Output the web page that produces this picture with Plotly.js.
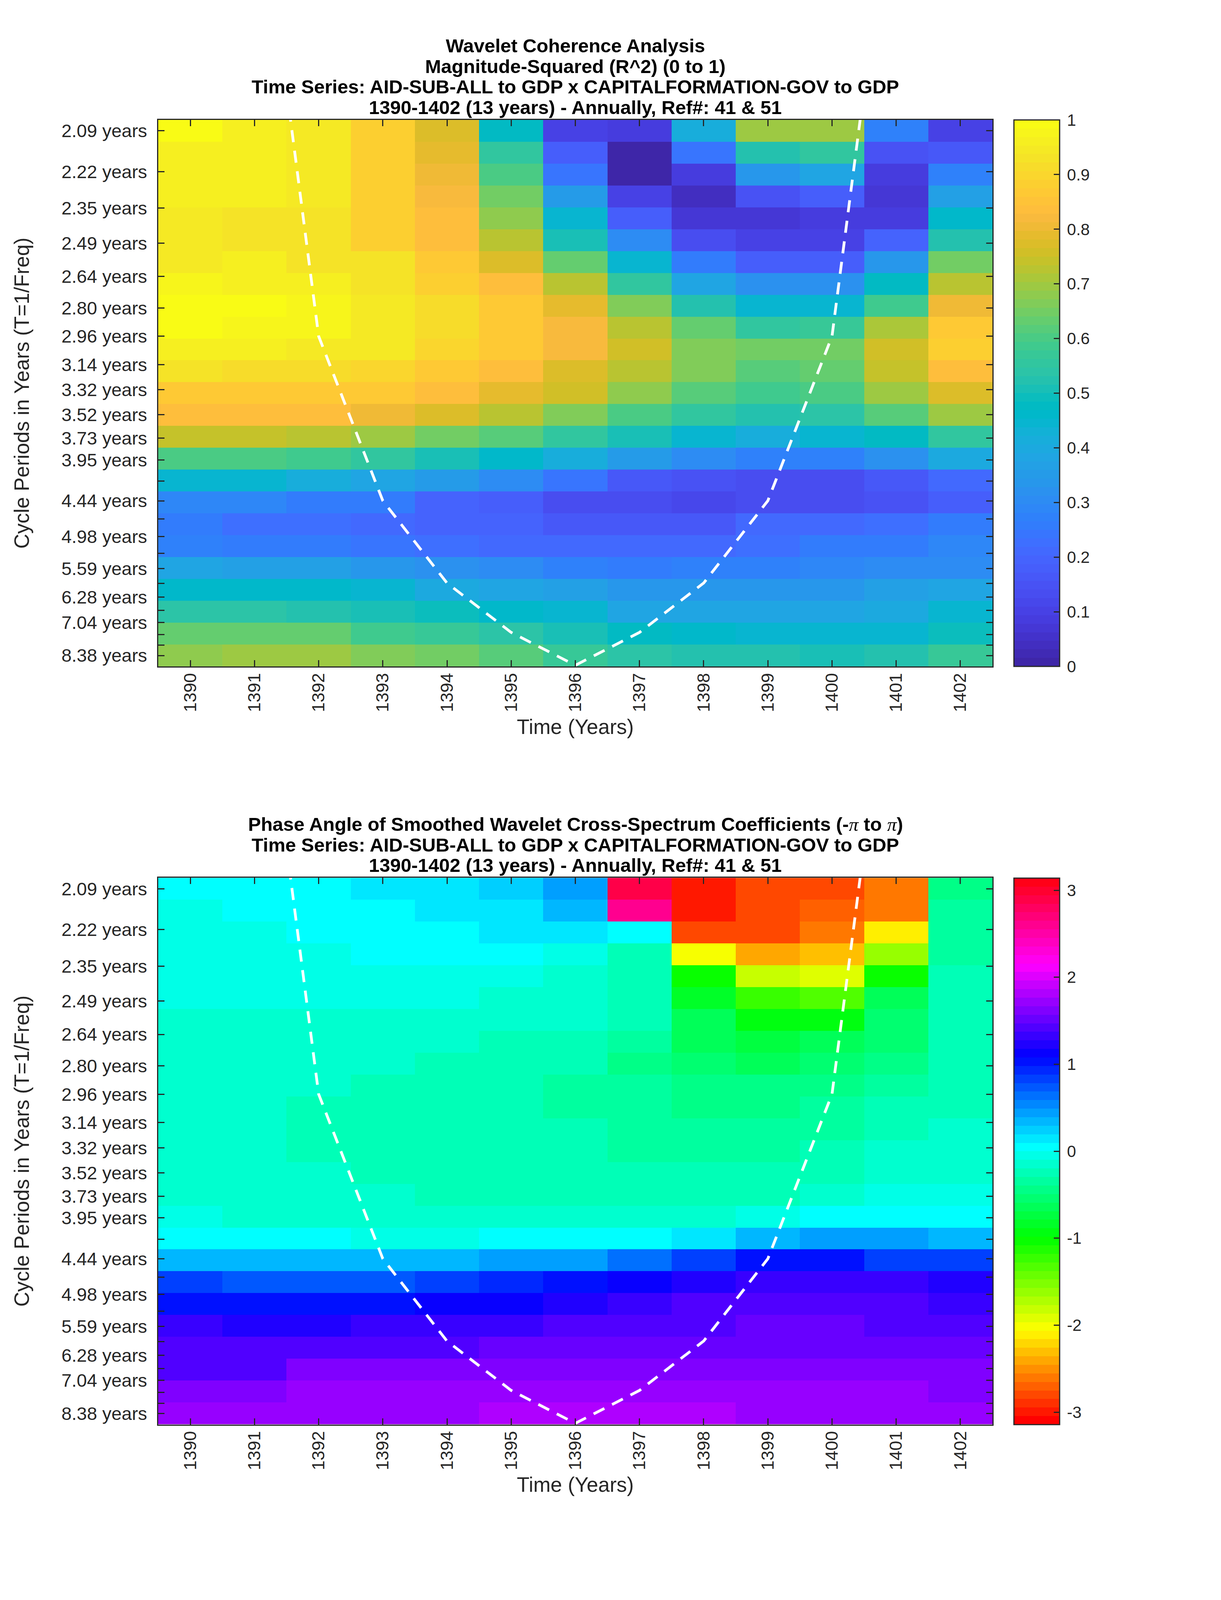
<!DOCTYPE html>
<html>
<head>
<meta charset="utf-8">
<script src="https://cdn.plot.ly/plotly-3.0.1.min.js"></script>
<style>html,body{margin:0;padding:0;background:#fff;overflow:hidden}</style>
</head>
<body>
<div id="chart"></div>
<script>
const years = [1390,1391,1392,1393,1394,1395,1396,1397,1398,1399,1400,1401,1402];
const periods = [2.09,2.22,2.35,2.49,2.64,2.80,2.96,3.14,3.32,3.52,3.73,3.95,4.19,4.44,4.70,4.98,5.28,5.59,5.93,6.28,6.66,7.04,7.48,7.91,8.38];
const periodLabels = ['2.09 years','2.22 years','2.35 years','2.49 years','2.64 years','2.80 years','2.96 years','3.14 years','3.32 years','3.52 years','3.73 years','3.95 years','','4.44 years','','4.98 years','','5.59 years','','6.28 years','','7.04 years','','','8.38 years'];

// cone of influence, period in years at each year
const coiYears = [1391,1392,1393,1394,1395,1396,1397,1398,1399,1400,1401];
const coiPeriods = [1.48,2.96,4.44,5.92,7.40,8.88,7.40,5.92,4.44,2.96,1.48];

// magnitude-squared coherence, one row per period
const coherence = [
  [.99,.96,.94,.885,.77,.48,.10,.085,.41,.69,.70,.28,.10],
  [.955,.955,.94,.885,.785,.55,.175,.01,.24,.53,.56,.155,.17],
  [.955,.955,.94,.885,.81,.595,.245,.01,.09,.335,.385,.08,.27],
  [.955,.955,.94,.885,.825,.65,.35,.095,.045,.155,.18,.07,.36],
  [.95,.935,.93,.885,.84,.68,.45,.18,.07,.075,.09,.09,.455],
  [.95,.935,.93,.885,.84,.72,.515,.30,.13,.105,.10,.19,.53],
  [.95,.955,.935,.925,.865,.78,.625,.45,.25,.185,.185,.33,.65],
  [.98,.96,.96,.935,.89,.84,.725,.555,.39,.32,.32,.47,.73],
  [.99,.985,.97,.95,.915,.865,.795,.665,.52,.445,.445,.585,.81],
  [.985,.975,.97,.95,.91,.87,.815,.73,.625,.56,.57,.715,.86],
  [.96,.96,.945,.94,.905,.86,.815,.755,.665,.645,.65,.765,.875],
  [.925,.92,.915,.895,.87,.84,.775,.73,.66,.62,.64,.74,.84],
  [.87,.87,.865,.865,.84,.79,.75,.675,.62,.59,.595,.70,.77],
  [.84,.84,.83,.81,.77,.72,.67,.60,.555,.525,.535,.61,.69],
  [.745,.745,.725,.695,.645,.62,.55,.515,.45,.42,.44,.475,.55],
  [.60,.60,.58,.56,.515,.465,.41,.35,.305,.27,.27,.32,.405],
  [.44,.44,.415,.39,.355,.30,.24,.17,.15,.135,.135,.165,.215],
  [.285,.285,.26,.25,.195,.175,.13,.125,.115,.125,.13,.155,.175],
  [.25,.225,.225,.21,.195,.19,.165,.165,.165,.205,.215,.22,.25],
  [.27,.25,.25,.24,.225,.215,.215,.215,.215,.225,.25,.255,.285],
  [.38,.36,.36,.34,.32,.30,.28,.265,.27,.27,.285,.30,.31],
  [.465,.465,.46,.445,.395,.375,.36,.34,.335,.335,.34,.365,.385],
  [.535,.535,.53,.515,.49,.46,.45,.39,.385,.385,.385,.395,.45],
  [.625,.625,.625,.59,.565,.545,.51,.475,.46,.445,.445,.445,.49],
  [.675,.70,.70,.665,.655,.615,.565,.54,.53,.52,.515,.53,.57]
];

// phase angle in radians, one row per period
const phase = [
  [0,0,0,.14,.14,.21,.49,2.93,-3.03,-2.81,-2.81,-2.65,-.45],
  [-.05,0,0,0,.14,.14,.32,2.65,-2.95,-2.83,-2.72,-2.56,-.35],
  [-.05,-.05,0,0,0,.14,.14,0,-2.75,-2.75,-2.65,-2.155,-.35],
  [-.05,-.05,-.05,0,0,0,-.05,-.24,-1.97,-2.45,-2.356,-1.61,-.34],
  [-.05,-.05,-.05,-.05,-.05,-.05,-.16,-.25,-1.05,-1.77,-1.88,-1.05,-.25],
  [-.05,-.05,-.05,-.05,-.05,-.16,-.16,-.25,-.85,-1.21,-1.32,-.65,-.25],
  [-.17,-.17,-.17,-.17,-.14,-.14,-.17,-.25,-.63,-.95,-.95,-.55,-.25],
  [-.17,-.17,-.17,-.17,-.17,-.25,-.25,-.39,-.63,-.77,-.65,-.5,-.25],
  [-.17,-.17,-.17,-.17,-.25,-.25,-.25,-.43,-.55,-.63,-.55,-.43,-.25],
  [-.17,-.17,-.17,-.25,-.25,-.25,-.39,-.39,-.45,-.45,-.45,-.39,-.25],
  [-.17,-.17,-.25,-.25,-.25,-.25,-.39,-.39,-.45,-.45,-.39,-.25,-.25],
  [-.17,-.17,-.25,-.25,-.25,-.25,-.25,-.39,-.39,-.39,-.39,-.25,-.17],
  [-.17,-.17,-.25,-.25,-.25,-.25,-.25,-.39,-.39,-.39,-.25,-.17,-.17],
  [-.17,-.17,-.17,-.25,-.25,-.25,-.25,-.25,-.25,-.25,-.25,-.17,-.17],
  [-.17,-.17,-.17,-.17,-.25,-.25,-.25,-.25,-.25,-.25,-.17,-.05,-.05],
  [-.05,-.17,-.17,-.17,-.17,-.17,-.17,-.17,-.17,-.05,0,0,0],
  [0,0,0,-.05,-.05,0,0,0,.14,.32,.42,.42,.32],
  [.32,.32,.32,.32,.32,.42,.49,.59,.8,1.02,1.02,.85,.8],
  [.8,.72,.72,.72,.8,.92,1.02,1.1,1.2,1.3,1.3,1.3,1.2],
  [1.02,1.02,1.02,1.02,1.1,1.1,1.2,1.3,1.4,1.4,1.4,1.4,1.3],
  [1.3,1.2,1.2,1.3,1.3,1.3,1.4,1.4,1.4,1.5,1.5,1.4,1.4],
  [1.4,1.4,1.4,1.4,1.4,1.5,1.5,1.5,1.5,1.5,1.5,1.5,1.5],
  [1.43,1.43,1.6,1.6,1.6,1.6,1.6,1.6,1.6,1.6,1.6,1.6,1.6],
  [1.6,1.6,1.7,1.7,1.7,1.7,1.7,1.7,1.7,1.7,1.7,1.7,1.6],
  [1.7,1.7,1.7,1.7,1.7,1.77,1.77,1.77,1.77,1.7,1.7,1.7,1.7]
];

const PARULA = [[.2422,.1504,.6603],[.2504,.165,.7076],[.2578,.1818,.7511],[.2647,.1978,.7952],[.2706,.2147,.8364],[.2751,.2342,.871],[.2783,.2559,.8991],[.2803,.2782,.9221],[.2813,.3006,.9414],[.281,.3228,.9579],[.2795,.3447,.9717],[.276,.3667,.9829],[.2699,.3892,.9906],[.2602,.4123,.9952],[.244,.4358,.9988],[.2206,.4603,.9973],[.1963,.4847,.9892],[.1834,.5074,.9798],[.1786,.5289,.9682],[.1764,.5499,.952],[.1687,.5703,.9359],[.154,.5902,.9218],[.146,.6091,.9079],[.138,.6276,.8973],[.1248,.6459,.8883],[.1113,.6635,.8763],[.0952,.6798,.8598],[.0689,.6948,.8394],[.0297,.7082,.8163],[.0036,.7203,.7917],[.0067,.7312,.766],[.0433,.7411,.7394],[.0964,.75,.712],[.1408,.7584,.6842],[.1717,.767,.6554],[.1938,.7758,.6251],[.2161,.7843,.5923],[.247,.7918,.5567],[.2906,.7973,.5188],[.3406,.8008,.4789],[.3909,.8029,.4354],[.4456,.8024,.3909],[.5044,.7993,.348],[.5616,.7942,.3045],[.6174,.7876,.2612],[.672,.7793,.2227],[.7242,.7698,.191],[.7738,.7598,.1646],[.8203,.7498,.1535],[.8634,.7406,.1596],[.9035,.733,.1774],[.9393,.7288,.21],[.9728,.7298,.2394],[.9956,.7434,.2371],[.997,.7659,.2199],[.9952,.7893,.2028],[.9892,.8136,.1885],[.9786,.8386,.1766],[.9676,.8639,.1643],[.961,.889,.1537],[.9597,.9135,.1423],[.9628,.9373,.1265],[.9691,.9606,.1064],[.9769,.9839,.0805]];

const rgb = c => `rgb(${c.map(v => Math.round(v * 255)).join(',')})`;

// matlab draws a stepped map, so each level gets a flat stretch of the scale
const stepped = colors => {
  const scale = [];
  colors.forEach((c, i) => {
    scale.push([i / colors.length, c]);
    scale.push([(i + 1) / colors.length, c]);
  });
  return scale;
};

const hsvColor = h => {
  const k = n => (n + h * 6) % 6;
  const f = n => 1 - Math.max(0, Math.min(k(n), 4 - k(n), 1));
  return `rgb(${Math.round(f(5) * 255)},${Math.round(f(3) * 255)},${Math.round(f(1) * 255)})`;
};

const parulaScale = stepped(PARULA.map(rgb));
const hsvScale = stepped(Array.from({ length: 64 }, (_, i) => hsvColor(i / 64)));

// the browser window can be shorter than the reference, so everything vertical follows it
const W = 3125, REF_H = 6252;
const H = Math.min(REF_H, window.innerHeight || REF_H);
const SY = H / REF_H;
const TS = Math.sqrt(SY);
const INK = '#262626';
const FONT = '"Liberation Sans", Arial, sans-serif';
const LEFT = 405, RIGHT = 2540, BAR_LEFT = 2595, BAR_W = 117;
const PANELS = [{ top: 468.5 * SY, bottom: 2604 * SY }, { top: 3430 * SY, bottom: 5566 * SY }];
const px = n => Math.round(n * TS);

// imagesc spreads the cells evenly between the first and last frequency
const fFirst = 1 / periods[0];
const fLast = 1 / periods[periods.length - 1];
const fStep = (fFirst - fLast) / (periods.length - 1);

const xAxis = (panel, anchor) => ({
  domain: [LEFT / W, RIGHT / W], anchor,
  range: [years[0] - 0.5, years[years.length - 1] + 0.5],
  tickmode: 'array', tickvals: years, ticktext: years.map(String), tickangle: -90,
  ticks: 'inside', ticklen: px(20), tickwidth: 3, tickcolor: INK,
  tickfont: { family: FONT, size: px(55), color: INK }, ticklabelstandoff: -4,
  showline: true, linecolor: INK, linewidth: 3, mirror: 'ticks', showgrid: false, zeroline: false,
  title: { text: 'Time (Years)', font: { family: FONT, size: px(65), color: INK }, standoff: 20 }
});

const yAxis = (panel, anchor) => ({
  domain: [1 - panel.bottom / H, 1 - panel.top / H], anchor,
  range: [fLast - fStep / 2, fFirst + fStep / 2],
  tickmode: 'array', tickvals: periods.map(p => 1 / p), ticktext: periodLabels,
  ticks: 'inside', ticklen: px(20), tickwidth: 3, tickcolor: INK,
  tickfont: { family: FONT, size: px(58), color: INK }, ticklabelstandoff: 16,
  showline: true, linecolor: INK, linewidth: 3, mirror: 'ticks', showgrid: false, zeroline: false,
  title: { text: 'Cycle Periods in Years (T=1/Freq)', font: { family: FONT, size: px(65), color: INK }, standoff: 66 }
});

const heat = (z, scale, zmin, zmax, tickvals, panel, xa, ya) => ({
  type: 'heatmap', z, x: years, y0: fFirst, dy: -fStep, xaxis: xa, yaxis: ya,
  colorscale: scale, zmin, zmax, zsmooth: false, hoverinfo: 'skip',
  colorbar: {
    x: BAR_LEFT / W, xanchor: 'left', xpad: 0, ypad: 0,
    y: 1 - panel.bottom / H, yanchor: 'bottom',
    len: (panel.bottom - panel.top) / H, lenmode: 'fraction',
    thickness: BAR_W, thicknessmode: 'pixels',
    outlinecolor: INK, outlinewidth: 3, borderwidth: 0,
    tickmode: 'array', tickvals, ticktext: tickvals.map(v => '\u2009' + v),
    ticks: 'inside', ticklen: px(20), tickwidth: 3, tickcolor: INK,
    tickfont: { family: FONT, size: px(52), color: INK }
  }
});

const coi = (xa, ya) => ({
  type: 'scatter', mode: 'lines', x: coiYears, y: coiPeriods.map(p => 1 / p), xaxis: xa, yaxis: ya,
  line: { color: '#ffffff', width: px(9), dash: `${px(38)}px,${px(27)}px` }, hoverinfo: 'skip', showlegend: false
});

const data = [
  heat(coherence, parulaScale, 0, 1, [0,.1,.2,.3,.4,.5,.6,.7,.8,.9,1], PANELS[0], 'x', 'y'),
  coi('x', 'y'),
  heat(phase, hsvScale, -Math.PI, Math.PI, [-3,-2,-1,0,1,2,3], PANELS[1], 'x2', 'y2'),
  coi('x2', 'y2')
];

const series = 'Time Series: AID-SUB-ALL to GDP x CAPITALFORMATION-GOV to GDP';
const span = '1390-1402 (13 years) - Annually, Ref#: 41 &amp; 51';
const pi = '<span style="font-family:\'Liberation Serif\';font-style:italic;font-weight:normal">π</span>';

const titleLine = (text, middle) => ({
  text: `<b>${text}</b>`, xref: 'paper', yref: 'paper', x: (LEFT + RIGHT) / 2 / W, y: 1 - middle * SY / H,
  xanchor: 'center', yanchor: 'middle', showarrow: false, borderpad: 0,
  font: { family: FONT, size: px(60), color: '#000000' }
});

const layout = {
  width: W, height: H, margin: { l: 0, r: 0, t: 0, b: 0 },
  paper_bgcolor: '#ffffff', plot_bgcolor: '#ffffff', showlegend: false,
  xaxis: xAxis(PANELS[0], 'y'), yaxis: yAxis(PANELS[0], 'x'),
  xaxis2: xAxis(PANELS[1], 'y2'), yaxis2: yAxis(PANELS[1], 'x2'),
  annotations: [
    titleLine('Wavelet Coherence Analysis', 178),
    titleLine('Magnitude-Squared (R^2) (0 to 1)', 259),
    titleLine(series, 339),
    titleLine(span, 419),
    titleLine(`Phase Angle of Smoothed Wavelet Cross-Spectrum Coefficients (-${pi} to ${pi})`, 3221),
    titleLine(series, 3301),
    titleLine(span, 3381)
  ]
};

document.getElementById('chart').style.cssText = `width:${W}px;height:${H}px`;
Plotly.newPlot('chart', data, layout, { displayModeBar: false, responsive: false });
</script>
</body>
</html>
